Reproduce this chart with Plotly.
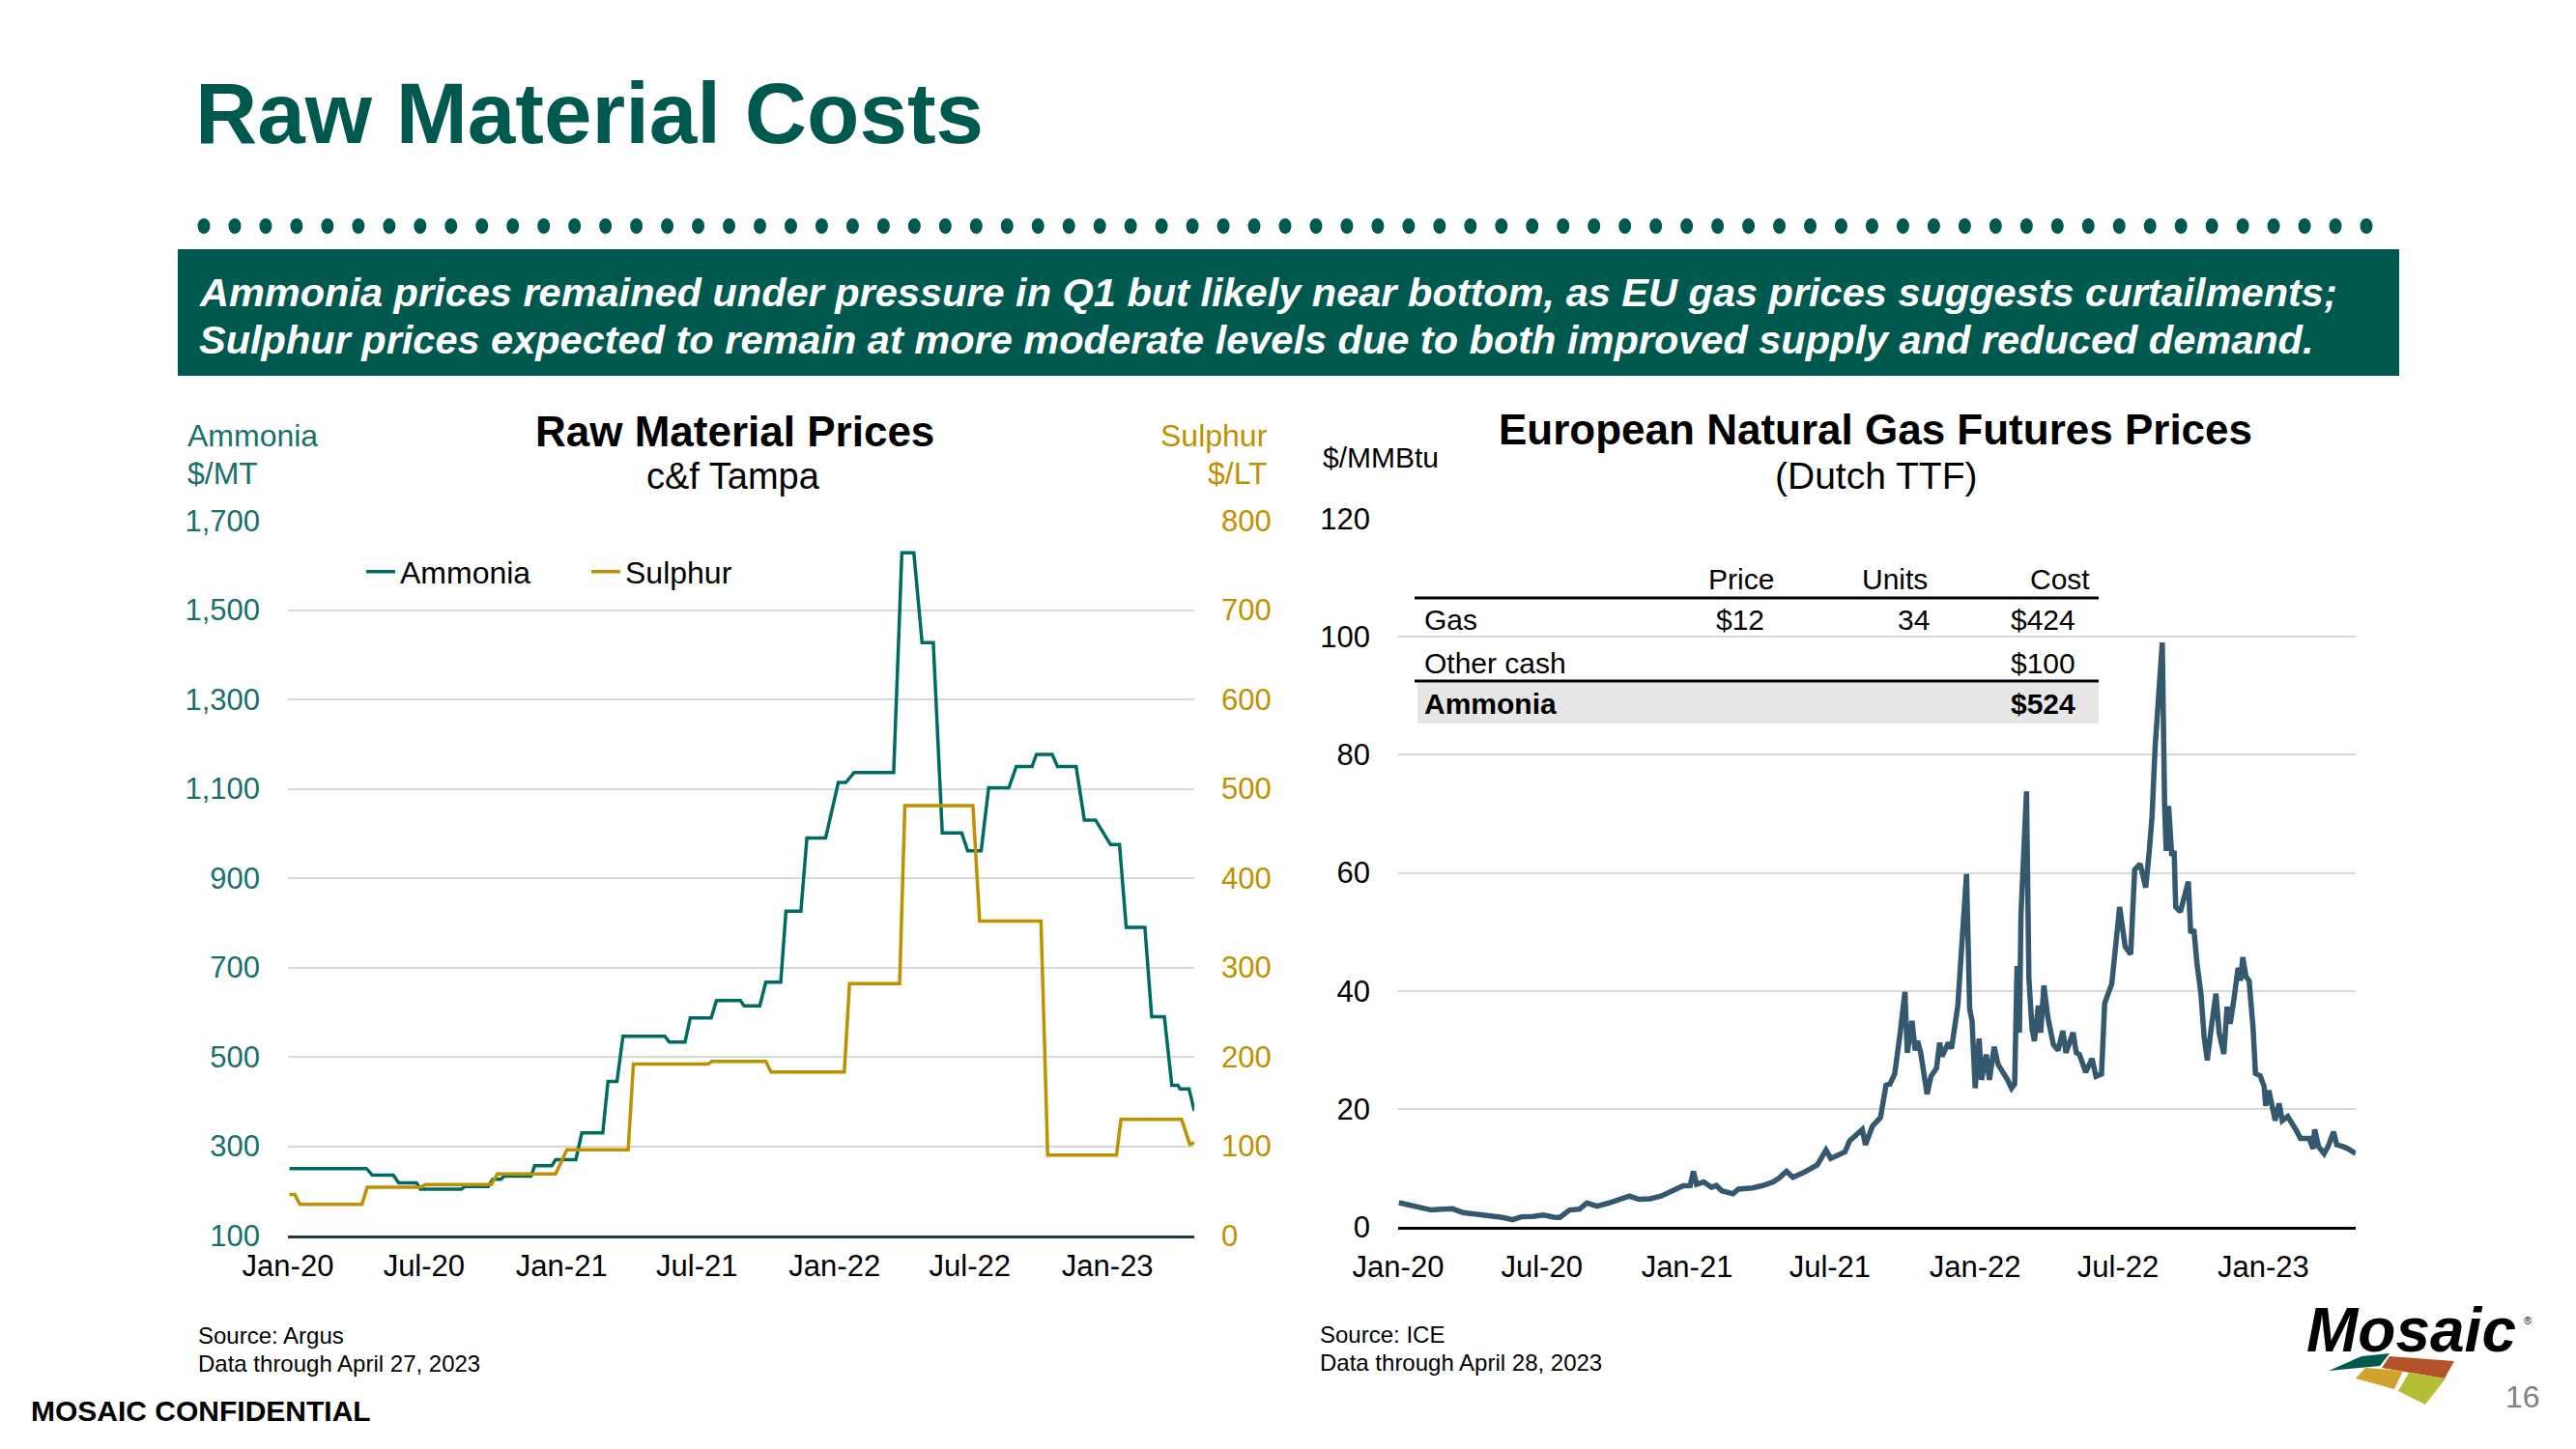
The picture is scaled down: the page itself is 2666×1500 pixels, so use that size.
import plotly.graph_objects as go

# ---------------- data ----------------
amm_dates = ["2020-01-03", "2020-04-15", "2020-04-23", "2020-05-21", "2020-05-28", "2020-06-21",
             "2020-06-26", "2020-08-20", "2020-08-25", "2020-09-25", "2020-10-01", "2020-10-12",
             "2020-10-16", "2020-11-21", "2020-11-26", "2020-12-19", "2020-12-24", "2021-01-20",
             "2021-01-28", "2021-02-25", "2021-03-04", "2021-03-16", "2021-03-24", "2021-05-19",
             "2021-05-25", "2021-06-15", "2021-06-22", "2021-07-20", "2021-07-27", "2021-08-28",
             "2021-09-02", "2021-09-23", "2021-10-01", "2021-10-21", "2021-10-28", "2021-11-17",
             "2021-11-25", "2021-12-20", "2022-01-06", "2022-01-16", "2022-01-27", "2022-03-21",
             "2022-04-01", "2022-04-17", "2022-04-28", "2022-05-13", "2022-05-25", "2022-06-20",
             "2022-06-28", "2022-07-16", "2022-07-26", "2022-08-22", "2022-09-01", "2022-09-22",
             "2022-09-28", "2022-10-19", "2022-10-26", "2022-11-20", "2022-12-01", "2022-12-16",
             "2023-01-05", "2023-01-17", "2023-01-26", "2023-02-20", "2023-03-01", "2023-03-18",
             "2023-03-28", "2023-04-05", "2023-04-08", "2023-04-20", "2023-04-27"]
amm_vals = [250, 250, 235, 235, 218, 218,
            204, 204, 210, 210, 226, 226,
            233, 233, 256, 256, 270, 270,
            330, 330, 445, 445, 546, 546,
            533, 533, 587, 587, 626, 626,
            614, 614, 667, 667, 826, 826,
            990, 990, 1114, 1114, 1136, 1136,
            1628, 1628, 1427, 1427, 1001, 1001,
            961, 961, 1102, 1102, 1150, 1150,
            1177, 1177, 1150, 1150, 1030, 1030,
            975, 975, 790, 790, 590, 590,
            436, 436, 428, 428, 379]

sul_dates = ["2020-01-03", "2020-01-10", "2020-01-17", "2020-04-09", "2020-04-16", "2020-06-26",
             "2020-07-03", "2020-09-29", "2020-10-07", "2020-12-24", "2021-01-08", "2021-03-31",
             "2021-04-07", "2021-07-16", "2021-07-21", "2021-10-01", "2021-10-08", "2022-01-14",
             "2022-01-21", "2022-03-29", "2022-04-05", "2022-07-05", "2022-07-14", "2022-10-04",
             "2022-10-13", "2023-01-13", "2023-01-19", "2023-04-10", "2023-04-21", "2023-04-27"]
sul_vals = [46, 46, 35, 35, 54, 54,
            57, 57, 69, 69, 96, 96,
            192, 192, 195, 195, 183, 183,
            282, 282, 481, 481, 352, 352,
            90, 90, 130, 130, 102, 104]

gas_dates = ["2020-01-02", "2020-01-17", "2020-02-12", "2020-02-25", "2020-03-10", "2020-03-23",
             "2020-04-08", "2020-04-25", "2020-05-12", "2020-05-25", "2020-06-05", "2020-06-20",
             "2020-07-03", "2020-07-16", "2020-07-24", "2020-08-05", "2020-08-18", "2020-08-27",
             "2020-09-09", "2020-09-24", "2020-10-11", "2020-10-20", "2020-11-01", "2020-11-15",
             "2020-11-29", "2020-12-11", "2020-12-27", "2021-01-05", "2021-01-09", "2021-01-13",
             "2021-01-22", "2021-02-01", "2021-02-07", "2021-02-14", "2021-02-28", "2021-03-07",
             "2021-03-25", "2021-04-07", "2021-04-20", "2021-04-28", "2021-05-07", "2021-05-15",
             "2021-05-28", "2021-06-15", "2021-06-26", "2021-07-02", "2021-07-20", "2021-07-26",
             "2021-08-11", "2021-08-15", "2021-08-24", "2021-09-03", "2021-09-10", "2021-09-15",
             "2021-09-21", "2021-09-28", "2021-10-04", "2021-10-07", "2021-10-13", "2021-10-17",
             "2021-10-20", "2021-10-24", "2021-11-01", "2021-11-06", "2021-11-13", "2021-11-17",
             "2021-11-20", "2021-11-28", "2021-12-02", "2021-12-10", "2021-12-15", "2021-12-21",
             "2021-12-25", "2021-12-28", "2022-01-01", "2022-01-06", "2022-01-09", "2022-01-15",
             "2022-01-19", "2022-01-25", "2022-01-30", "2022-02-06", "2022-02-11", "2022-02-16",
             "2022-02-20", "2022-02-23", "2022-02-26", "2022-02-28", "2022-03-07", "2022-03-10",
             "2022-03-14", "2022-03-17", "2022-03-22", "2022-03-25", "2022-03-29", "2022-04-03",
             "2022-04-10", "2022-04-16", "2022-04-22", "2022-04-26", "2022-05-05", "2022-05-09",
             "2022-05-13", "2022-05-21", "2022-05-29", "2022-06-03", "2022-06-10", "2022-06-14",
             "2022-06-19", "2022-06-23", "2022-07-03", "2022-07-10", "2022-07-17", "2022-07-22",
             "2022-07-29", "2022-08-05", "2022-08-09", "2022-08-13", "2022-08-17", "2022-08-26",
             "2022-08-29", "2022-08-31", "2022-09-03", "2022-09-07", "2022-09-10", "2022-09-12",
             "2022-09-18", "2022-09-28", "2022-10-01", "2022-10-05", "2022-10-09", "2022-10-14",
             "2022-10-18", "2022-10-22", "2022-10-27", "2022-11-02", "2022-11-06", "2022-11-12",
             "2022-11-16", "2022-11-20", "2022-11-25", "2022-11-30", "2022-12-03", "2022-12-06",
             "2022-12-10", "2022-12-14", "2022-12-19", "2022-12-22", "2022-12-28", "2023-01-02",
             "2023-01-04", "2023-01-08", "2023-01-16", "2023-01-21", "2023-01-25", "2023-02-01",
             "2023-02-11", "2023-02-17", "2023-02-28", "2023-03-05", "2023-03-07", "2023-03-12",
             "2023-03-19", "2023-03-24", "2023-03-31", "2023-04-04", "2023-04-12", "2023-04-19",
             "2023-04-28"]
gas_vals = [4.1, 3.6, 2.85, 3.0, 3.05, 2.4,
            2.2, 1.86, 1.6, 1.2, 1.7, 1.75,
            2.0, 1.65, 1.6, 2.85, 3.0, 4.05,
            3.5, 4.05, 4.75, 5.2, 4.65, 4.75,
            5.2, 5.85, 6.95, 7.0, 9.4, 7.2,
            7.6, 6.7, 7.0, 6.1, 5.6, 6.4,
            6.6, 7.0, 7.6, 8.3, 9.4, 8.4,
            9.15, 10.5, 13.0, 11.6, 12.7, 14.6,
            16.5, 13.9, 17.1, 18.5, 24.0, 24.2,
            25.9, 32.9, 39.8, 29.5, 34.9, 29.9,
            31.5, 29.5, 22.5, 25.5, 26.9, 31.2,
            28.9, 31.2, 30.2, 37.5, 46.9, 59.8,
            36.9, 34.9, 23.5, 31.9, 24.9, 29.2,
            24.9, 30.5, 27.5, 26.2, 24.9, 23.5,
            24.2, 44.2, 32.9, 52.9, 73.8, 42.2,
            33.5, 31.5, 37.5, 32.9, 40.9, 35.5,
            30.9, 29.9, 33.2, 29.5, 32.9, 29.5,
            29.2, 26.2, 28.5, 25.5, 25.9, 37.9,
            39.5, 41.2, 54.2, 47.5, 46.2, 60.5,
            61.5, 57.5, 62.9, 69.5, 81.5, 99.0,
            70.9, 63.7, 71.3, 62.9, 63.7, 54.2,
            53.4, 58.5, 49.8, 50.4, 44.6, 39.5,
            32.2, 28.2, 33.7, 39.5, 32.9, 29.3,
            37.3, 34.4, 38.8, 43.9, 41.7, 45.7,
            42.4, 41.7, 33.7, 26.0, 25.6, 23.8,
            20.5, 23.1, 18.0, 20.9, 18.0, 18.7,
            16.5, 15.0, 15.0, 13.2, 16.5, 13.6,
            12.4, 13.6, 16.1, 13.9, 13.6, 13.2,
            12.4]

table_cols = ["", "Price", "Units", "Cost"]
table_rows = [["Gas", "$12", "34", "$424"],
              ["Other cash", "", "", "$100"],
              ["Ammonia", "", "", "$524"]]

banner_lines = ["Ammonia prices remained under pressure in Q1 but likely near bottom, as EU gas prices suggests curtailments;",
                "Sulphur prices expected to remain at more moderate levels due to both improved supply and reduced demand."]

# ---------------- styling ----------------
FONT = "Liberation Sans, Arial, Helvetica, sans-serif"
GREEN = "#00594F"
TEAL = "#006B62"
TEAL_TXT = "#17706A"
GOLD = "#BF9000"
GAS = "#34586E"
GRID = "#D9D9D9"

OFF = 8                     # default page margin of the html body
WF, HF = 2666 - 2 * OFF, 1500 - 2 * OFF


def px(x):
    return (x - OFF) / WF


def py(y):
    return 1 - (y - OFF) / HF


def T(text, x, y, size, color="#000000", anchor="left", weight="normal", style="normal"):
    return dict(text=text, x=px(x), y=py(y), xref="paper", yref="paper",
                xanchor=anchor, yanchor="middle", showarrow=False,
                font=dict(family=FONT, size=size, color=color, weight=weight, style=style))


def rect(x0, y0, x1, y1, color, layer="below"):
    return dict(type="rect", xref="paper", yref="paper", x0=px(x0), x1=px(x1), y0=py(y1), y1=py(y0),
                fillcolor=color, line=dict(width=0), layer=layer)


def hline(x0, x1, y, color, width):
    return dict(type="line", xref="paper", yref="paper", x0=px(x0), x1=px(x1), y0=py(y), y1=py(y),
                line=dict(color=color, width=width))


def poly(points, color):
    d = "M " + " L ".join(f"{px(a):.5f},{py(b):.5f}" for a, b in points) + " Z"
    return dict(type="path", xref="paper", yref="paper", path=d, fillcolor=color,
                line=dict(width=0), layer="above")


fig = go.Figure()
fig.add_trace(go.Scatter(x=amm_dates, y=amm_vals, name="Ammonia", mode="lines",
                         line=dict(color=TEAL, width=3.5), xaxis="x", yaxis="y"))
fig.add_trace(go.Scatter(x=sul_dates, y=sul_vals, name="Sulphur", mode="lines",
                         line=dict(color=GOLD, width=3.5), xaxis="x", yaxis="y2"))
fig.add_trace(go.Scatter(x=gas_dates, y=gas_vals, name="Dutch TTF", mode="lines", showlegend=False,
                         line=dict(color=GAS, width=5.5), xaxis="x2", yaxis="y3"))

tick_font = dict(family=FONT, size=31, color="#000000")

fig.update_layout(
    width=WF, height=HF, margin=dict(l=0, r=0, t=0, b=0, pad=0, autoexpand=False),
    paper_bgcolor="white", plot_bgcolor="white",
    font=dict(family=FONT, color="#000000"),
    xaxis=dict(domain=[px(298), px(1236)], anchor="y", type="date", automargin=False,
               range=["2020-01-01", "2023-04-27"], tick0="2020-01-01", dtick="M6",
               tickformat="%b-%y", showgrid=False, zeroline=False, showline=True,
               linecolor="#1F3B40", linewidth=3, ticks="", tickfont=tick_font,
               ticklabelstandoff=2),
    yaxis=dict(domain=[py(1279), py(539)], anchor="x", range=[100, 1700], tick0=100, dtick=200,
               tickformat=",d", showgrid=True, gridcolor=GRID, gridwidth=1.5, zeroline=False,
               showline=False, ticks="", tickfont=dict(family=FONT, size=31, color=TEAL_TXT),
               ticklabelstandoff=28, automargin=False),
    yaxis2=dict(overlaying="y", side="right", anchor="x", range=[0, 800], tick0=0, dtick=100,
                showgrid=False, zeroline=False, showline=False, ticks="", automargin=False,
                tickfont=dict(family=FONT, size=31, color=GOLD), ticklabelstandoff=27),
    xaxis2=dict(domain=[px(1447), px(2438)], anchor="y3", type="date", automargin=False,
                range=["2020-01-01", "2023-04-28"], tick0="2020-01-01", dtick="M6",
                tickformat="%b-%y", showgrid=False, zeroline=False, showline=True,
                linecolor="#000000", linewidth=3, ticks="", tickfont=tick_font,
                ticklabelstandoff=12),
    yaxis3=dict(domain=[py(1270), py(537)], anchor="x2", range=[0, 120], tick0=0, dtick=20,
                showgrid=True, gridcolor=GRID, gridwidth=1.5, zeroline=False, showline=False,
                ticks="", tickfont=tick_font, ticklabelstandoff=28, automargin=False),
    legend=dict(x=px(374), y=py(592), xanchor="left", yanchor="middle", orientation="h",
                font=dict(family=FONT, size=32, color="#000000"), bgcolor="rgba(0,0,0,0)",
                entrywidth=188, entrywidthmode="pixels", itemwidth=30, borderwidth=0),
)

shapes = []
# banner
shapes.append(rect(184, 258, 2483, 389, GREEN))
# dotted rule
n_dots = 71
for i in range(n_dots):
    cx = 211 + i * (2449 - 211) / (n_dots - 1)
    shapes.append(dict(type="circle", xref="paper", yref="paper",
                       x0=px(cx - 6.5), x1=px(cx + 6.5), y0=py(242), y1=py(226),
                       fillcolor=GREEN, line=dict(width=0)))
# table
shapes.append(rect(1467, 707, 2172, 749, "#E6E6E6"))
shapes.append(hline(1464, 2172, 619, "#000000", 3))
shapes.append(hline(1464, 2172, 705, "#000000", 3))
# logo tiles
shapes.append(poly([(2410, 1419), (2444, 1404), (2473, 1401), (2463, 1414)], "#00594F"))
shapes.append(poly([(2473, 1404), (2540, 1409), (2530, 1427), (2465, 1416)], "#B3532B"))
shapes.append(poly([(2448, 1416), (2487, 1419), (2478, 1438), (2438, 1427)], "#D1A22D"))
shapes.append(poly([(2493, 1421), (2531, 1427), (2510, 1454), (2482, 1440)], "#B5BD34"))
fig.update_layout(shapes=shapes)

ann = []
ann.append(T("Raw Material Costs", 200, 117, 89, GREEN, weight="bold"))
ann.append(T(banner_lines[0], 204, 302, 41.5, "#FFFFFF", weight="bold", style="italic"))
ann.append(T(banner_lines[1], 204, 351, 41.5, "#FFFFFF", weight="bold", style="italic"))
# left chart header
ann.append(T("Raw Material Prices", 760, 446, 44, "#000000", "center", "bold"))
ann.append(T("c&f Tampa", 759, 493, 38, "#000000", "center"))
ann.append(T("Ammonia", 192, 451, 32, TEAL_TXT))
ann.append(T("$/MT", 192, 490, 32, TEAL_TXT))
ann.append(T("Sulphur", 1314, 451, 32, GOLD, "right"))
ann.append(T("$/LT", 1314, 490, 32, GOLD, "right"))
# right chart header
ann.append(T("European Natural Gas Futures Prices", 1941, 445, 44, "#000000", "center", "bold"))
ann.append(T("(Dutch TTF)", 1941, 492, 39, "#000000", "center"))
ann.append(T("$/MMBtu", 1367, 474, 30))
# table text
col_x = [(1472, "left"), (1801, "center"), (1999, "right"), (2150, "right")]
head_x = [(1472, "left"), (1802, "center"), (1961, "center"), (2165, "right")]
for j, h in enumerate(table_cols):
    if h:
        ann.append(T(h, head_x[j][0], 599, 30, "#000000", head_x[j][1]))
row_y = [642, 686, 728]
for i, row in enumerate(table_rows):
    w = "bold" if i == len(table_rows) - 1 else "normal"
    for j, cell in enumerate(row):
        if cell:
            ann.append(T(cell, col_x[j][0], row_y[i], 30, "#000000", col_x[j][1], w))
# footers
ann.append(T("Source: Argus", 203, 1382, 24))
ann.append(T("Data through April 27, 2023", 203, 1411, 24))
ann.append(T("Source: ICE", 1364, 1381, 24))
ann.append(T("Data through April 28, 2023", 1364, 1410, 24))
ann.append(T("MOSAIC CONFIDENTIAL", 30, 1460, 30, weight="bold"))
ann.append(T("Mosaic", 2495, 1377, 64, "#000000", "center", "bold", "italic"))
ann.append(T("®", 2616, 1367, 11, "#000000", "center"))
ann.append(T("16", 2611, 1446, 32, "#7F7F7F", "center"))
fig.update_layout(annotations=ann)

fig.write_html("out.html")
